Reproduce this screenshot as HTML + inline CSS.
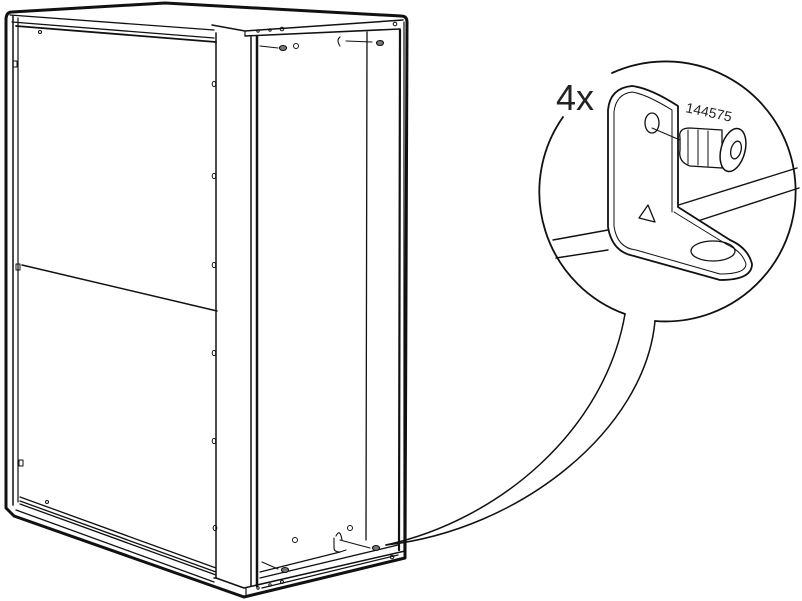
<!DOCTYPE html>
<html><head><meta charset="utf-8"><style>
html,body{margin:0;padding:0;background:#fff;}
svg{display:block;}
text{font-family:"Liberation Sans",sans-serif;fill:#222;}
</style></head><body>
<svg width="802" height="601" viewBox="0 0 802 601" xmlns="http://www.w3.org/2000/svg" fill="none" stroke="#111" stroke-linecap="round" stroke-linejoin="round">
<!-- outer silhouette -->
<path d="M12,12 Q6,12 6,20 L6,508 L14,516 L244,597 L405,558 L407,22 Q407,16 401,16 L165,3 Z" stroke-width="3" fill="#fff"/>
<path d="M13,16 L13,505" stroke-width="1.5"/>
<path d="M18,18 L18,502" stroke-width="1.2"/>
<path d="M10,15 L214,30" stroke-width="1.3"/>
<path d="M12,22 L214,38" stroke-width="1.3"/>
<path d="M16,26 L216,42" stroke-width="1.8"/>
<path d="M216,33 L216,578" stroke-width="1.5"/>
<path d="M212,25 L245,31 L403,20" stroke-width="1.5"/>
<path d="M245,31 L245,36" stroke-width="1.2"/>
<path d="M245,36 L400,29" stroke-width="1.5"/>
<path d="M22,265 L217,311" stroke-width="1.5"/>
<path d="M20,497 L216,568" stroke-width="1.3"/>
<path d="M20,501 L216,572" stroke-width="1.3"/>
<path d="M20,504 L216,575" stroke-width="1.3"/>
<path d="M16,510 L214,582" stroke-width="1.3"/>
<path d="M214,578 L216,578 L244,588 L405,551" stroke-width="1.5"/>
<path d="M246,588 L246,596" stroke-width="1.2"/>
<path d="M251,37 L251,586" stroke-width="1.5"/>
<path d="M257,37 L257,586" stroke-width="2.5"/>
<path d="M367,32 L366,540" stroke-width="1.3"/>
<path d="M400,30 L399,550" stroke-width="2.2"/>
<path d="M404,22 L404,552" stroke-width="1.2"/>
<path d="M260,578 L398,545" stroke-width="1.3"/>
<path d="M260,572 L340,552" stroke-width="1.3"/>
<path d="M262,588 L398,555" stroke-width="1.2"/>
<g stroke-width="1">
<ellipse cx="214" cy="84" rx="1.8" ry="2.6"/><ellipse cx="214" cy="176" rx="1.8" ry="2.6"/>
<ellipse cx="214" cy="265" rx="1.8" ry="2.6"/><ellipse cx="214" cy="353" rx="1.8" ry="2.6"/>
<ellipse cx="214" cy="441" rx="1.8" ry="2.6"/><ellipse cx="215" cy="528" rx="1.8" ry="2.6"/>
<circle cx="40" cy="32" r="1.5"/><circle cx="47" cy="502" r="1.5"/>
<rect x="13" y="61" width="4" height="6"/><rect x="16" y="264" width="4" height="6"/><rect x="19" y="460" width="4" height="6"/>
<circle cx="296" cy="46" r="2.5"/><circle cx="258" cy="31" r="1.2"/><circle cx="270" cy="30" r="1.2"/><circle cx="282" cy="29" r="1.8"/><circle cx="395" cy="24" r="1.8"/>
<circle cx="295" cy="540" r="2.5"/><circle cx="350" cy="528" r="2.5"/>
<circle cx="258" cy="588" r="1.2"/><circle cx="270" cy="585" r="1.2"/><circle cx="282" cy="582" r="1.5"/><circle cx="392" cy="557" r="1.8"/>
</g>
<g stroke-width="1.1">
<path d="M260,46 L278,48"/><ellipse cx="283" cy="48" rx="3.5" ry="2.5" fill="#777"/>
<path d="M340,37 Q336,40 340,46 M346,41 L372,42"/><ellipse cx="380" cy="43" rx="3.5" ry="2.5" fill="#777"/>
<path d="M334,538 L334,548 Q334,552 340,552 L346,550 M336,536 Q340,528 342,540"/>
<path d="M340,540 L370,548"/><ellipse cx="376" cy="548" rx="3.5" ry="2.5" fill="#777"/>
<path d="M262,562 L278,569"/><ellipse cx="285" cy="570" rx="3.5" ry="2.5" fill="#777"/>
</g>
<!-- magnifier circle with gaps -->
<path d="M612,73 A130,130 0 1 1 655,321" stroke-width="1.8"/>
<path d="M625,314 A130,130 0 0 1 563,117" stroke-width="1.8"/>
<!-- callout tail -->
<path d="M386,545 C500,520 605,430 625,314" stroke-width="1.5"/>
<path d="M386,545 C520,530 645,430 655,321" stroke-width="1.5"/>
<text x="556" y="110" font-size="36" stroke="none">4x</text>
<text x="685" y="112" font-size="14" stroke="none" transform="rotate(12 685 112)">144575</text>
<path d="M553,240 L608,230 M669,208 L797,168" stroke-width="1.4"/>
<path d="M556,258 L608,250 M670,230 L799,188" stroke-width="1.4"/>
<path d="M608,227 L608,110 Q610,88 632,86 Q650,88 678,106 L678,207 M608,227 Q612,252 634,256 L720,280 Q752,280 752,264 Q748,248 730,240 L678,207" stroke-width="1.8" fill="#fff"/>
<path d="M614,226 L614,112 Q616,94 632,92 Q646,94 672,110 L672,212 M614,226 Q617,248 636,250 L720,274 Q746,274 746,264 Q742,251 726,244 L674,212" stroke-width="1"/>
<ellipse cx="652" cy="123" rx="7" ry="10" stroke-width="1.3"/>
<path d="M639,218 L648,205 L655,222 Z" stroke-width="1.3"/>
<ellipse cx="713" cy="251" rx="22" ry="10" stroke-width="1.3"/>
<path d="M652,128 L680,140" stroke-width="1"/>
<path d="M680,138 Q678,128 690,128 L722,130 L722,168 L690,166 Q678,162 680,150 Z" stroke-width="1.3" fill="#fff"/>
<path d="M688,130 L688,164 M698,130 L698,165 M708,131 L708,166" stroke-width="1"/>
<ellipse cx="733" cy="150" rx="12" ry="22" stroke-width="1.5" fill="#fff" transform="rotate(15 733 150)"/>
<ellipse cx="736" cy="150" rx="5" ry="9" stroke-width="1.3" transform="rotate(15 736 150)"/>
</svg>
</body></html>
